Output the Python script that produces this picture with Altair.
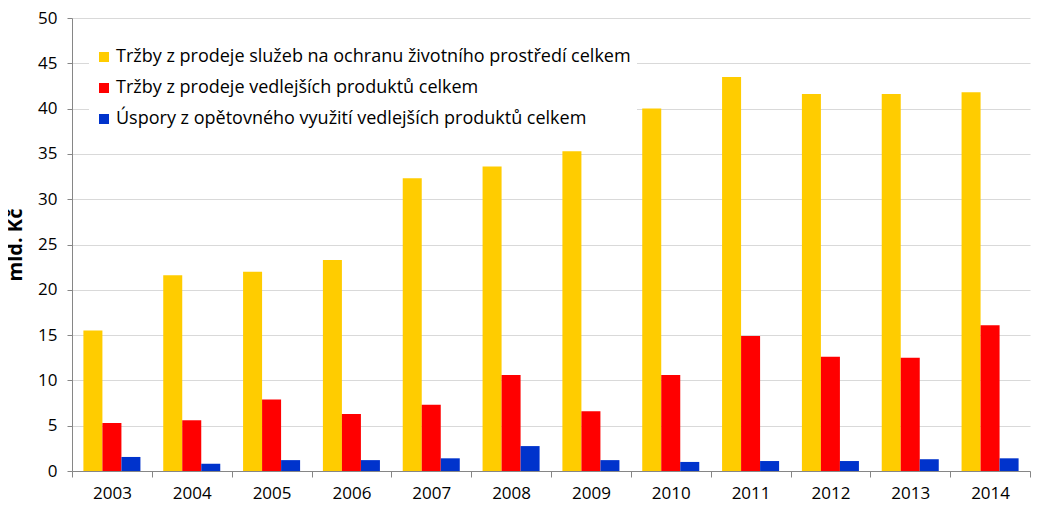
import altair as alt
import pandas as pd

years = [str(y) for y in range(2003, 2015)]
series = [
    "Tržby z prodeje služeb na ochranu životního prostředí celkem",
    "Tržby z prodeje vedlejších produktů celkem",
    "Úspory z opětovného využití vedlejších produktů celkem",
]
sluzby = [15.5, 21.6, 22.0, 23.3, 32.3, 33.6, 35.3, 40.0, 43.5, 41.6, 41.6, 41.8]
vedlejsi = [5.3, 5.6, 7.9, 6.3, 7.3, 10.6, 6.6, 10.6, 14.9, 12.6, 12.5, 16.1]
uspory = [1.55, 0.8, 1.2, 1.2, 1.4, 2.75, 1.2, 1.0, 1.1, 1.1, 1.3, 1.4]
colors = ["#FFCC00", "#FF0000", "#0033CC"]
y_ticks = list(range(0, 51, 5))

rows = []
for s, vals in zip(series, [sluzby, vedlejsi, uspory]):
    for yr, v in zip(years, vals):
        rows.append({"year": yr, "series": s, "value": v})
df = pd.DataFrame(rows)

FONT = "Open Sans"

chart = alt.Chart(df).mark_bar().encode(
    x=alt.X(
        "year:N",
        sort=years,
        scale=alt.Scale(paddingInner=0, paddingOuter=0),
        axis=alt.Axis(
            title=None, labelAngle=0, tickBand="extent", grid=False,
            domainColor="#868686", tickColor="#868686", tickSize=6,
            labelFont=FONT, labelFontSize=17, labelColor="#000000", labelPadding=8,
        ),
    ),
    xOffset=alt.XOffset("series:N", sort=series,
                        scale=alt.Scale(paddingInner=0, paddingOuter=0.6)),
    y=alt.Y(
        "value:Q",
        scale=alt.Scale(domain=[0, 50], nice=False),
        axis=alt.Axis(
            values=y_ticks, title="mld. Kč", grid=True, gridColor="#D9D9D9",
            domainColor="#868686", tickColor="#868686", tickSize=5,
            labelFont=FONT, labelFontSize=17, labelColor="#000000", labelPadding=10,
            titleFont=FONT, titleFontSize=20, titleFontWeight="bold",
            titleColor="#000000", titlePadding=12,
        ),
    ),
    color=alt.Color(
        "series:N",
        sort=series,
        scale=alt.Scale(domain=series, range=colors),
        legend=alt.Legend(
            title=None, orient="none", legendX=17, legendY=24,
            fillColor="#FFFFFF", padding=6, symbolType="square", symbolSize=100,
            symbolStrokeWidth=0, labelFont=FONT, labelFontSize=18,
            labelColor="#000000", labelLimit=700, rowPadding=13, labelOffset=3,
        ),
    ),
).properties(
    width=958, height=453,
    padding={"left": 64, "top": 10, "right": 22, "bottom": 34},
    autosize="none",
).configure_view(stroke=None)

chart.save("out.html", embed_options={"renderer": "svg", "actions": False})
